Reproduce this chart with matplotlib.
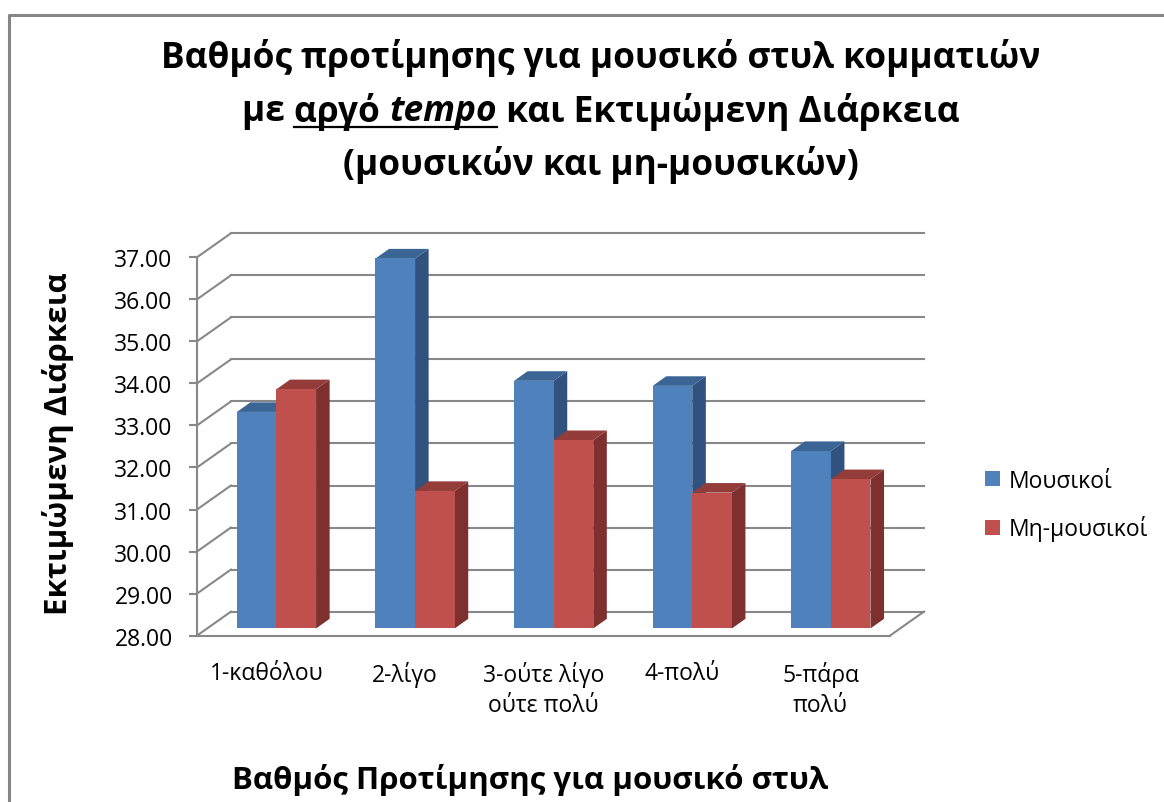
import numpy as np
import matplotlib.pyplot as plt
from matplotlib.patches import Polygon, Patch
from matplotlib.lines import Line2D

plt.rcParams['font.family'] = ['Open Sans', 'DejaVu Sans']

# Data
categories = ['1-καθόλου', '2-λίγο', '3-ούτε λίγο\nούτε πολύ', '4-πολύ', '5-πάρα\nπολύ']
musicians = [33.15, 36.80, 33.89, 33.77, 32.22]
non_musicians = [33.69, 31.27, 32.48, 31.23, 31.55]
series_names = ['Μουσικοί', 'Μη-μουσικοί']
y_ticks = np.arange(28, 38, 1)

# face colours: front, top, side
blue = ('#4F81BD', '#3B6594', '#31527E')
red = ('#C0504D', '#933C3A', '#7D302E')
grid_col = '#888888'

# oblique projection: full depth shifts by (DX categories, DY value units)
DX, DY = 0.245, 0.571
f1, f2 = 0.3, 0.7          # front/back depth of the bars
bw = 1 / 3.5               # bar width (gap width 150%)
ymin = 28

fig = plt.figure(figsize=(11.64, 8.03), dpi=100)
ax = fig.add_axes([0.1335, 0.181, 0.6668, 0.534])
ax.set_xlim(-0.3, 5.3)
ax.set_ylim(27.5, 37.7)


def shift(x, y, d):
    return (x + d * DX, y + d * DY)


def bar3d(x0, x1, v, cols):
    front, top, side = cols
    side_pts = [shift(x1, ymin, f1), shift(x1, v, f1), shift(x1, v, f2), shift(x1, ymin, f2)]
    top_pts = [shift(x0, v, f1), shift(x1, v, f1), shift(x1, v, f2), shift(x0, v, f2)]
    front_pts = [shift(x0, ymin, f1), shift(x1, ymin, f1), shift(x1, v, f1), shift(x0, v, f1)]
    for pts, c in ((side_pts, side), (top_pts, top), (front_pts, front)):
        ax.add_patch(Polygon(pts, closed=True, facecolor=c, edgecolor='none', zorder=3))


# walls and floor
n = len(categories)
for t in y_ticks:
    ax.plot([0, DX], [t, t + DY], color=grid_col, lw=1.5, zorder=1)
    ax.plot([DX, n + DX], [t + DY, t + DY], color=grid_col, lw=1.5, zorder=1)
ax.plot([0, n], [ymin, ymin], color=grid_col, lw=1.5, zorder=1)
ax.plot([n, n + DX], [ymin, ymin + DY], color=grid_col, lw=1.5, zorder=1)

# bars
for i in range(n):
    c = i + 0.5
    bar3d(c - bw, c, musicians[i], blue)
    bar3d(c, c + bw, non_musicians[i], red)

# axes styling
for s in ['top', 'right', 'bottom']:
    ax.spines[s].set_visible(False)
ax.spines['left'].set_position(('data', 0))
ax.spines['left'].set_bounds(28, 37)
ax.spines['left'].set_color(grid_col)
ax.spines['left'].set_linewidth(1.5)
ax.set_yticks(y_ticks)
ax.set_yticklabels([f'{t:.2f}' for t in y_ticks])
ax.tick_params(axis='y', direction='out', length=5.5, width=1.5, color=grid_col,
               labelsize=16.5, pad=12)
ax.set_xticks(np.arange(n) + 0.5)
ax.set_xticklabels(categories, fontsize=16.5, linespacing=1.35)
ax.tick_params(axis='x', length=0, pad=3)
ax.patch.set_alpha(0)

# axis titles
fig.text(58 / 1164, 1 - 444 / 803, 'Εκτιμώμενη Διάρκεια', rotation=90,
         ha='center', va='center', fontsize=22.5, fontweight='bold')
fig.text(530 / 1164, 1 - 780 / 803, 'Βαθμός Προτίμησης για μουσικό στυλ',
         ha='center', va='center', fontsize=22.5, fontweight='bold')

# legend
handles = [Patch(facecolor=blue[0]), Patch(facecolor=red[0])]
fig.legend(handles, series_names, loc='center left',
           bbox_to_anchor=(964 / 1164, 1 - 506 / 803), frameon=False,
           fontsize=16.5, handlelength=0.65, handleheight=0.65,
           handletextpad=0.4, labelspacing=1.0)

# title
tsize = 25.4
cx = 601 / 1164
fig.text(cx, 1 - 58 / 803, 'Βαθμός προτίμησης για μουσικό στυλ κομματιών',
         ha='center', va='center', fontsize=tsize, fontweight='bold')
fig.text(cx, 1 - 165 / 803, '(μουσικών και μη-μουσικών)',
         ha='center', va='center', fontsize=tsize, fontweight='bold')

# middle title line with underlined / italic words
parts = [('με ', 'normal'), ('αργό ', 'normal'), ('tempo', 'italic'),
         (' και Εκτιμώμενη Διάρκεια', 'normal')]
y2 = 1 - 112 / 803
texts = [fig.text(0, y2, s, ha='left', va='center', fontsize=tsize,
                  fontweight='bold', style=st) for s, st in parts]
fig.canvas.draw()
r = fig.canvas.get_renderer()
widths = [t.get_window_extent(r).width / fig.bbox.width for t in texts]
x = cx - sum(widths) / 2
starts = []
for t, w in zip(texts, widths):
    t.set_x(x)
    starts.append(x)
    x += w
ul_y = 1 - 128 / 803
fig.add_artist(Line2D([starts[1], starts[2] + widths[2]], [ul_y, ul_y],
                      color='black', lw=1.6, transform=fig.transFigure))

# chart border
fig.add_artist(Line2D([8.5 / 1164, 8.5 / 1164, 1], [0, 1 - 15.5 / 803, 1 - 15.5 / 803],
                      color='#868686', lw=2.2, transform=fig.transFigure))

fig.savefig('out.png', dpi=100)
